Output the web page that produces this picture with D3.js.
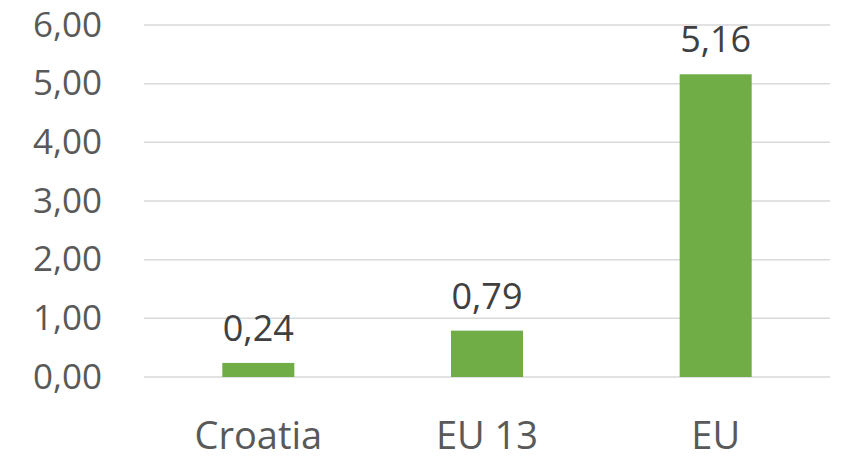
<!DOCTYPE html>
<html>
<head>
<meta charset="utf-8">
<script src="https://cdn.jsdelivr.net/npm/d3@7"></script>
<style>
  body { margin: 0; background: #fff; }
  text { font-family: "Open Sans", sans-serif; }
</style>
</head>
<body>
<div id="chart"></div>
<script>
var categories = ["Croatia", "EU 13", "EU"];
var values = [0.24, 0.79, 5.16];
var yTicks = [0, 1, 2, 3, 4, 5, 6];

var svgWidth = 846;
var svgHeight = 462;

var margin = { top: 25, right: 16, bottom: 85, left: 144 };
var width = svgWidth - margin.left - margin.right;
var height = svgHeight - margin.top - margin.bottom;

var fmt = function(v) { return v.toFixed(2).replace(".", ","); };

var svg = d3.select("#chart")
  .append("svg")
  .attr("width", svgWidth)
  .attr("height", svgHeight);

var chartGroup = svg.append("g")
  .attr("transform", `translate(${margin.left}, ${margin.top})`);

var xScale = d3.scaleBand()
  .domain(categories)
  .range([0, width])
  .paddingInner(0.685)
  .paddingOuter(0.3425);

var yScale = d3.scaleLinear()
  .domain([0, 6])
  .range([height, 0]);

// gridlines
chartGroup.selectAll(".grid")
  .data(yTicks)
  .enter()
  .append("line")
  .attr("x1", 0)
  .attr("x2", width)
  .attr("y1", d => yScale(d))
  .attr("y2", d => yScale(d))
  .attr("stroke", "#d9d9d9")
  .attr("stroke-width", 1.5);

// y axis labels
var leftAxis = d3.axisLeft(yScale)
  .tickValues(yTicks)
  .tickFormat(fmt)
  .tickSize(0)
  .tickPadding(42);

var yAxis = chartGroup.append("g").call(leftAxis);
yAxis.select(".domain").remove();
yAxis.selectAll("text")
  .attr("font-size", 35)
  .attr("font-family", "Open Sans, sans-serif")
  .attr("fill", "#595959");

// x axis labels
var bottomAxis = d3.axisBottom(xScale).tickSize(0);
var xAxis = chartGroup.append("g")
  .attr("transform", `translate(0, ${height})`)
  .call(bottomAxis);
xAxis.select(".domain").remove();
xAxis.selectAll("text")
  .attr("y", 72)
  .attr("dy", 0)
  .attr("font-size", 38)
  .attr("font-family", "Open Sans, sans-serif")
  .attr("fill", "#595959");

// bars
chartGroup.selectAll(".bar")
  .data(values)
  .enter()
  .append("rect")
  .attr("x", (d, i) => xScale(categories[i]))
  .attr("width", xScale.bandwidth())
  .attr("y", d => yScale(d))
  .attr("height", d => height - yScale(d))
  .attr("fill", "#70ad47");

// value labels
chartGroup.selectAll(".val")
  .data(values)
  .enter()
  .append("text")
  .attr("x", (d, i) => xScale(categories[i]) + xScale.bandwidth() / 2)
  .attr("y", d => yScale(d) - 22)
  .attr("text-anchor", "middle")
  .attr("font-size", 36)
  .attr("fill", "#404040")
  .text(d => fmt(d));
</script>
</body>
</html>
